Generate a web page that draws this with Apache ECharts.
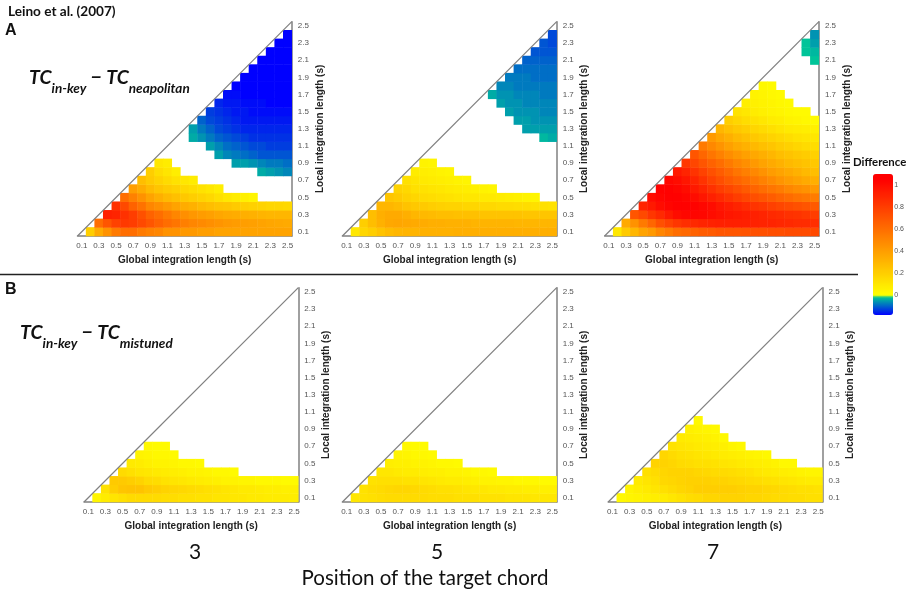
<!DOCTYPE html>
<html>
<head>
<meta charset="utf-8">
<title>Leino et al. (2007)</title>
<script src="https://cdn.jsdelivr.net/npm/echarts@6/dist/echarts.min.js"></script>
<style>
html, body { margin: 0; padding: 0; background: #fff; }
#chart { width: 907px; height: 595px; }
</style>
</head>
<body>
<div id="chart"></div>
<script>
const _ = null;

// integration lengths in seconds, same list for both axes
const lengths = ['0.1', '0.2', '0.3', '0.4', '0.5', '0.6', '0.7', '0.8', '0.9', '1.0', '1.1', '1.2', '1.3',
    '1.4', '1.5', '1.6', '1.7', '1.8', '1.9', '2.0', '2.1', '2.2', '2.3', '2.4', '2.5'];
const colorbarTicks = [0, 0.2, 0.4, 0.6, 0.8, 1];

// one row per local length (0.1 upwards), each row starts at global = local + 0.1
const neapolitan3 = [
    [.2, .35, .45, .55, .6, .6, .55, .52, .5, .45, .45, .42, .42, .4, .4, .38, .38, .38, .38, .38, .38, .38, .38, .38],
    [.6, .7, .78, .82, .8, .75, .7, .65, .6, .57, .53, .5, .48, .46, .44, .42, .41, .4, .39, .38, .37, .36, .35],
    [.92, .9, .85, .8, .72, .65, .6, .55, .5, .46, .43, .41, .39, .37, .35, .34, .33, .32, .31, .3, .3, .3],
    [.85, .75, .65, .58, .5, .46, .42, .38, .34, .32, .29, .27, .25, .24, .22, .2, .19, .18, .17, .17, .16],
    [.6, .52, .45, .38, .33, .29, .26, .23, .2, .18, .16, .13, .1, .08, .06, .04],
    [.4, .34, .28, .24, .21, .19, .16, .14, .12, .1, .07],
    [.27, .22, .18, .15, .12, .1, .08],
    [.2, .14, .11, .07, _, _, _, _, _, _, _, _, _, -.04, -.05, -.06, -.07],
    [.1, .08, _, _, _, _, _, _, _, -.05, -.05, -.06, -.07, -.08, -.08, -.09],
    [_, _, _, _, _, _, -.05, -.07, -.08, -.09, -.1, -.11, -.11, -.11, -.11],
    [_, _, _, _, -.05, -.07, -.09, -.1, -.11, -.12, -.12, -.13, -.13, -.13],
    [_, -.04, -.06, -.08, -.1, -.11, -.12, -.13, -.14, -.14, -.14, -.14, -.14],
    [-.05, -.08, -.1, -.12, -.13, -.14, -.15, -.15, -.15, -.15, -.15, -.15],
    [-.1, -.12, -.13, -.14, -.15, -.16, -.16, -.16, -.16, -.16, -.16],
    [-.13, -.14, -.15, -.16, -.16, -.17, -.17, -.17, -.17, -.17],
    [-.15, -.16, -.16, -.17, -.17, -.17, -.18, -.18, -.18],
    [-.17, -.17, -.18, -.18, -.18, -.18, -.18, -.18],
    [-.18, -.18, -.18, -.18, -.18, -.18, -.18],
    [-.18, -.18, -.18, -.18, -.18, -.18],
    [-.18, -.18, -.18, -.18, -.18],
    [-.18, -.18, -.18, -.18],
    [-.18, -.18, -.18],
    [-.18, -.18],
    [-.18]
];
const neapolitan5 = [
    [.1, .17, .2, .25, .28, .3, .31, .31, .32, .32, .32, .32, .33, .33, .33, .33, .33, .33, .33, .33, .33, .33, .33, .33],
    [.2, .27, .32, .36, .37, .36, .35, .34, .33, .33, .32, .32, .32, .31, .31, .31, .31, .31, .3, .3, .3, .3, .3],
    [.27, .33, .35, .35, .33, .3, .29, .28, .27, .27, .26, .26, .26, .25, .25, .25, .25, .25, .24, .24, .24, .24],
    [.3, .3, .28, .25, .23, .22, .2, .19, .18, .18, .17, .17, .16, .16, .15, .15, .14, .14, .13, .13, .12],
    [.24, .22, .19, .17, .15, .14, .13, .12, .11, .1, .1, .09, .09, .08, .07, .06, .05, .04],
    [.18, .16, .13, .12, .11, .1, .09, .08, .07, .06, .05, .04],
    [.13, .11, .09, .08, .07, .06, .05, .04],
    [.08, .07, .06, .05, .04],
    [.05, .04],
    [],
    [],
    [_, _, _, _, _, _, _, _, _, _, _, -.03, -.04],
    [_, _, _, _, _, _, _, _, -.05, -.05, -.05, -.05],
    [_, _, _, _, _, _, -.05, -.05, -.06, -.06, -.06],
    [_, _, _, _, -.05, -.06, -.06, -.06, -.07, -.07],
    [_, _, -.05, -.06, -.06, -.07, -.07, -.07, -.07],
    [-.04, -.06, -.06, -.07, -.07, -.07, -.08, -.08],
    [-.07, -.07, -.08, -.08, -.08, -.08, -.08],
    [-.08, -.08, -.08, -.09, -.09, -.09],
    [-.09, -.09, -.09, -.09, -.09],
    [-.1, -.1, -.1, -.1],
    [-.11, -.11, -.11],
    [-.11, -.12],
    [-.12]
];
const neapolitan7 = [
    [.1, .22, .3, .38, .42, .5, .55, .6, .62, .65, .67, .68, .7, .7, .7, .71, .72, .72, .73, .73, .74, .74, .74, .75],
    [.35, .45, .55, .63, .72, .78, .83, .86, .88, .9, .91, .92, .92, .92, .92, .91, .9, .9, .89, .88, .87, .87, .86],
    [.7, .75, .83, .88, .95, 1, 1.02, 1.03, 1.02, 1, .98, .96, .95, .93, .92, .9, .88, .87, .85, .84, .82, .8],
    [.9, .95, 1, 1.03, 1.05, 1.05, 1.04, 1.02, 1, .96, .93, .9, .87, .84, .82, .79, .76, .74, .72, .7, .68],
    [1, 1.03, 1.05, 1.05, 1.03, 1, .96, .92, .88, .84, .8, .76, .73, .7, .67, .64, .61, .58, .56, .54],
    [1.05, 1.05, 1.03, 1, .95, .9, .85, .8, .76, .72, .68, .64, .6, .57, .54, .5, .47, .45, .42],
    [1.02, 1, .96, .9, .84, .78, .73, .68, .64, .6, .56, .52, .48, .44, .41, .38, .35, .33],
    [.95, .9, .84, .78, .72, .67, .62, .57, .53, .49, .45, .41, .38, .35, .32, .29, .27],
    [.82, .76, .7, .65, .6, .55, .5, .46, .42, .38, .35, .32, .29, .27, .25, .23],
    [.7, .63, .57, .52, .47, .43, .39, .36, .33, .3, .27, .25, .23, .21, .19],
    [.55, .49, .44, .39, .35, .32, .29, .26, .24, .21, .19, .17, .15, .14],
    [.42, .37, .33, .29, .26, .23, .2, .18, .16, .14, .12, .11, .1],
    [.3, .26, .23, .2, .17, .15, .13, .11, .09, .08, .07, .06],
    [.2, .17, .14, .12, .1, .08, .07, .05, .04, .03, .02],
    [.12, .1, .08, .06, .05, .04, .03, .02, .02],
    [.07, .06, .05, .04, .03, .02],
    [.05, .04, .03, .02],
    [.03, .02],
    [],
    [],
    [_, _, _, -.02],
    [_, -.02, -.03],
    [-.02, -.05],
    [-.06]
];
const mistuned3 = [
    [.04, .08, .11, .13, .15, .15, .15, .15, .14, .14, .13, .13, .12, .12, .11, .11, .1, .1, .09, .09, .08, .08, .08, .07],
    [.12, .2, .24, .25, .25, .22, .2, .18, .17, .16, .15, .14, .13, .12, .11, .1, .09, .09, .08, .07, .07, .06, .06],
    [.22, .22, .2, .18, .15, .14, .12, .11, .1, .09, .08, .07, .06, .05, .05, .04, .04, .03, .03, .03, .02, .02],
    [.15, .13, .11, .1, .09, .08, .07, .06, .05, .05, .04, .03, .03, .02],
    [.09, .08, .06, .05, .05, .04, .03, .03, .02],
    [.05, .04, .03, .03, .02],
    [.03, .02, .02]
];
const mistuned5 = [
    [.1, .12, .13, .14, .15, .15, .15, .15, .15, .14, .14, .14, .13, .13, .13, .12, .12, .12, .11, .11, .11, .1, .1, .1],
    [.12, .14, .15, .16, .17, .17, .16, .15, .14, .13, .13, .12, .11, .1, .1, .09, .09, .08, .08, .07, .07, .06, .06],
    [.12, .13, .13, .13, .12, .12, .11, .1, .09, .08, .08, .07, .06, .05, .05, .04, .04, .03, .03, .03, .02, .02],
    [.1, .1, .09, .08, .08, .07, .06, .06, .05, .05, .04, .03, .03, .02],
    [.07, .06, .06, .05, .05, .04, .03, .03, .02],
    [.05, .04, .03, .03, .02],
    [.03, .02, .02]
];
const mistuned7 = [
    [.03, .04, .05, .06, .07, .08, .1, .12, .14, .15, .17, .17, .18, .18, .18, .17, .17, .16, .15, .15, .14, .14, .13, .13],
    [.05, .07, .09, .11, .13, .15, .17, .18, .2, .2, .2, .2, .2, .19, .18, .18, .17, .16, .15, .14, .13, .13, .12],
    [.09, .11, .13, .16, .17, .18, .19, .19, .19, .18, .18, .17, .16, .15, .14, .13, .12, .11, .1, .09, .08, .08],
    [.13, .15, .17, .18, .18, .18, .17, .16, .15, .15, .14, .13, .12, .1, .09, .08, .07, .06, .05, .04, .04],
    [.18, .18, .17, .15, .14, .13, .13, .12, .11, .1, .09, .08, .07, .06, .05, .03, .03],
    [.17, .15, .13, .12, .11, .1, .09, .08, .07, .06, .05, .04, .03],
    [.12, .11, .1, .09, .08, .07, .06, .04, .03],
    [.09, .08, .07, .06, .05, .03],
    [.06, .05, .04, .03],
    [.03]
];

const diffMin = -0.18;
const diffMax = 1.1;
const cellSize = 214.3;

const panels = [
    { rows: neapolitan3, left: 77.5, top: 21.7 },
    { rows: neapolitan5, left: 342.4, top: 21.7 },
    { rows: neapolitan7, left: 604.6, top: 21.7 },
    { rows: mistuned3, left: 84, top: 287.7 },
    { rows: mistuned5, left: 342.4, top: 287.7 },
    { rows: mistuned7, left: 608.2, top: 287.7 }
];

// green to blue below zero, yellow to red above it
const colorAt = (v) => {
    if (v < 0) {
        const t = (v - diffMin) / -diffMin;
        return `rgb(0,${Math.round(220 * t)},${Math.round(255 - 115 * t)})`;
    }
    return `rgb(255,${Math.round(Math.max(0, 255 * (1 - v / 1.05)))},0)`;
};
const ramp = [];
for (let i = 0; i <= 64; i++) {
    ramp.push(colorAt(diffMin + i * 0.02));
}

const toCells = (rows) => {
    const cells = [];
    rows.forEach((row, j) => {
        row.forEach((val, k) => {
            if (val !== null) {
                cells.push([j + 1 + k, j, val]);
            }
        });
    });
    return cells;
};

const axisLine = { lineStyle: { color: '#808080', width: 1.5 } };
const axisTick = { alignWithLabel: true, interval: 1, length: 2, lineStyle: { color: '#808080' } };
const tickLabel = { interval: 1, fontFamily: 'Liberation Sans', fontSize: 8, color: '#555', margin: 6 };
const axisName = { fontFamily: 'Liberation Sans', fontSize: 10, fontWeight: 'bold', color: '#222' };

const grid = [];
const xAxes = [];
const yAxes = [];
const series = [];
const heatmaps = [];

panels.forEach((p, idx) => {
    grid.push({ left: p.left, top: p.top, width: cellSize, height: cellSize });
    xAxes.push({
        type: 'category', gridIndex: idx, data: lengths, position: 'bottom',
        name: 'Global integration length (s)', nameLocation: 'middle', nameGap: 19, nameTextStyle: axisName,
        axisLine, axisTick, axisLabel: tickLabel, splitLine: { show: false }
    }, { type: 'value', gridIndex: idx, show: false, min: 0.05, max: 2.55 });
    yAxes.push({
        type: 'category', gridIndex: idx, data: lengths, position: 'right',
        name: 'Local integration length (s)', nameLocation: 'middle', nameGap: 23, nameRotate: 90, nameTextStyle: axisName,
        axisLine, axisTick, axisLabel: tickLabel, splitLine: { show: false }
    }, { type: 'value', gridIndex: idx, show: false, min: 0.05, max: 2.55 });
    heatmaps.push(series.length);
    series.push({
        type: 'heatmap', xAxisIndex: idx * 2, yAxisIndex: idx * 2, data: toCells(p.rows),
        silent: true, emphasis: { disabled: true }, itemStyle: { borderWidth: 0 }
    });
    // diagonal runs on a hidden value pair over the same grid
    series.push({
        type: 'line', xAxisIndex: idx * 2 + 1, yAxisIndex: idx * 2 + 1,
        data: [[0.05, 0.05], [2.55, 2.55]], showSymbol: false, silent: true,
        lineStyle: { color: '#808080', width: 1.2 }, z: 5
    });
});

// colorbar scale, the bar itself is the visualMap
grid.push({ left: 873, top: 174, width: 20, height: 141 });
xAxes.push({ type: 'value', gridIndex: 6, show: false, min: 0, max: 1 });
yAxes.push({
    type: 'value', gridIndex: 6, position: 'right', min: diffMin, max: diffMax,
    axisLine: { show: false },
    axisTick: { show: true, length: 2, customValues: colorbarTicks, lineStyle: { color: '#808080' } },
    axisLabel: { customValues: colorbarTicks, fontFamily: 'Liberation Sans', fontSize: 7, color: '#555', margin: 4 },
    splitLine: { show: false }
});

const tc = { fontFamily: 'Lato', fontStyle: 'italic', fontSize: 19.5, color: '#111', verticalAlign: 'top' };
const tcSub = { fontFamily: 'Lato', fontStyle: 'italic', fontWeight: 'bold', fontSize: 13.5, color: '#111', verticalAlign: 'bottom', lineHeight: 28 };
const plain = { fontFamily: 'Lato', color: '#111' };
const letter = { fontFamily: 'Liberation Sans', fontSize: 16, fontWeight: 'bold', color: '#111' };
const digit = { ...plain, fontSize: 21, fontWeight: 'normal' };

const option = {
    animation: false,
    backgroundColor: '#fff',
    title: [
        { text: 'Leino et al. (2007)', left: 8, top: 5, padding: 0, textStyle: { ...plain, fontSize: 13.6, fontWeight: 'bold' } },
        { text: 'A', left: 5, top: 23, padding: 0, textStyle: letter },
        { text: 'B', left: 5, top: 282, padding: 0, textStyle: letter },
        {
            text: '{tc|TC}{sub|in-key}{tc| \u2212 TC}{sub|neapolitan}', left: 29, top: 68, padding: 0,
            textStyle: { rich: { tc, sub: tcSub } }
        },
        {
            text: '{tc|TC}{sub|in-key}{tc| \u2212 TC}{sub|mistuned}', left: 20, top: 323, padding: 0,
            textStyle: { rich: { tc, sub: tcSub } }
        },
        { text: 'Difference', left: 853, top: 157, padding: 0, textStyle: { ...plain, fontSize: 11.4, fontWeight: 'bold' } },
        { text: '3', left: 195, top: 552, padding: 0, textAlign: 'center', textVerticalAlign: 'middle', textStyle: digit },
        { text: '5', left: 437, top: 552, padding: 0, textAlign: 'center', textVerticalAlign: 'middle', textStyle: digit },
        { text: '7', left: 713, top: 552, padding: 0, textAlign: 'center', textVerticalAlign: 'middle', textStyle: digit },
        { text: 'Position of the target chord', left: 425, top: 578, padding: 0, textAlign: 'center', textVerticalAlign: 'middle', textStyle: { ...plain, fontSize: 20.5, fontWeight: 'normal' } }
    ],
    grid,
    xAxis: xAxes,
    yAxis: yAxes,
    visualMap: {
        type: 'continuous', seriesIndex: heatmaps, min: diffMin, max: diffMax,
        left: 873, top: 174, itemWidth: 20, itemHeight: 141, padding: 0,
        calculable: false, hoverLink: false, text: null, showLabel: false,
        inRange: { color: ramp }
    },
    graphic: [
        { type: 'line', silent: true, shape: { x1: 0, y1: 274.5, x2: 858, y2: 274.5 }, style: { stroke: '#222', lineWidth: 1.5 } }
    ],
    series
};

const chart = echarts.init(document.getElementById('chart'));
chart.setOption(option);
</script>
</body>
</html>
